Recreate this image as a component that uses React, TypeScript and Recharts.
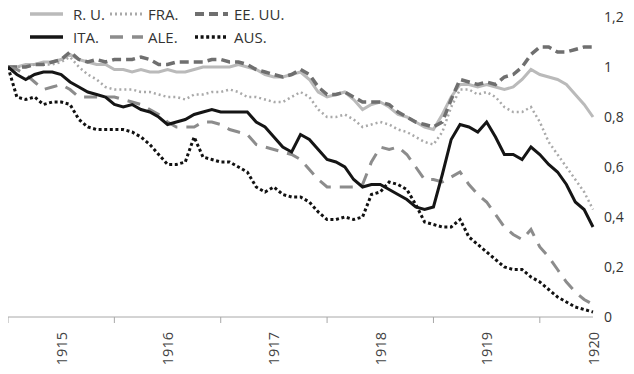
import React from 'react';
import { LineChart, Line, XAxis, YAxis, Legend } from 'recharts';

const MONTHS = [
  '1915-01', '1915-02', '1915-03', '1915-04', '1915-05', '1915-06', '1915-07', '1915-08', '1915-09', '1915-10', '1915-11', '1915-12',
  '1916-01', '1916-02', '1916-03', '1916-04', '1916-05', '1916-06', '1916-07', '1916-08', '1916-09', '1916-10', '1916-11', '1916-12',
  '1917-01', '1917-02', '1917-03', '1917-04', '1917-05', '1917-06', '1917-07', '1917-08', '1917-09', '1917-10', '1917-11', '1917-12',
  '1918-01', '1918-02', '1918-03', '1918-04', '1918-05', '1918-06', '1918-07', '1918-08', '1918-09', '1918-10', '1918-11', '1918-12',
  '1919-01', '1919-02', '1919-03', '1919-04', '1919-05', '1919-06', '1919-07', '1919-08', '1919-09', '1919-10', '1919-11', '1919-12',
  '1920-01', '1920-02', '1920-03', '1920-04', '1920-05', '1920-06', '1920-07',
];

const TICKS = [
  '1915-01', '1915-07', '1916-01', '1916-07', '1917-01', '1917-07',
  '1918-01', '1918-07', '1919-01', '1919-07', '1920-01', '1920-07',
];

const Y_TICKS = [0, 0.2, 0.4, 0.6, 0.8, 1, 1.2];

const RU = [
  1.00, 1.00, 1.01, 1.01, 1.02, 1.02, 1.03, 1.05, 1.03, 1.02, 1.01, 1.01,
  0.99, 0.99, 0.98, 0.99, 0.98, 0.98, 0.99, 0.98, 0.98, 0.99, 1.00, 1.00,
  1.00, 1.00, 1.01, 1.00, 0.99, 0.97, 0.96, 0.96, 0.97, 0.98, 0.95, 0.90,
  0.88, 0.89, 0.90, 0.87, 0.83, 0.85, 0.86, 0.84, 0.81, 0.80, 0.78, 0.76,
  0.75, 0.81, 0.88, 0.93, 0.93, 0.92, 0.93, 0.92, 0.91, 0.92, 0.95, 0.99,
  0.97, 0.96, 0.95, 0.93, 0.89, 0.85, 0.80,
];

const FRA = [
  1.00, 1.00, 1.00, 1.01, 1.01, 1.01, 1.02, 1.04, 1.00, 0.97, 0.95, 0.92,
  0.91, 0.91, 0.91, 0.90, 0.90, 0.89, 0.88, 0.88, 0.87, 0.89, 0.89, 0.90,
  0.90, 0.91, 0.90, 0.88, 0.88, 0.87, 0.86, 0.86, 0.88, 0.90, 0.88, 0.83,
  0.80, 0.80, 0.81, 0.79, 0.76, 0.77, 0.78, 0.77, 0.75, 0.74, 0.72, 0.70,
  0.69, 0.74, 0.84, 0.91, 0.91, 0.89, 0.90, 0.88, 0.84, 0.82, 0.82, 0.84,
  0.78, 0.70, 0.65, 0.60, 0.55, 0.50, 0.43,
];

const EEUU = [
  1.00, 1.00, 1.00, 1.01, 1.01, 1.02, 1.03, 1.06, 1.03, 1.02, 1.03, 1.02,
  1.03, 1.03, 1.03, 1.04, 1.03, 1.01, 1.01, 1.02, 1.02, 1.02, 1.02, 1.03,
  1.03, 1.02, 1.02, 1.01, 0.99, 0.98, 0.97, 0.96, 0.97, 0.99, 0.97, 0.92,
  0.89, 0.89, 0.90, 0.88, 0.86, 0.86, 0.86, 0.85, 0.82, 0.80, 0.78, 0.77,
  0.76, 0.78, 0.87, 0.95, 0.94, 0.93, 0.94, 0.93, 0.96, 0.97, 1.00, 1.05,
  1.08, 1.08, 1.06, 1.06, 1.07, 1.08, 1.08,
];

const ITA = [
  1.00, 0.97, 0.95, 0.97, 0.98, 0.98, 0.97, 0.94, 0.92, 0.90, 0.89, 0.88,
  0.85, 0.84, 0.85, 0.83, 0.82, 0.80, 0.77, 0.78, 0.79, 0.81, 0.82, 0.83,
  0.82, 0.82, 0.82, 0.82, 0.78, 0.76, 0.72, 0.68, 0.66, 0.73, 0.71, 0.67,
  0.63, 0.62, 0.60, 0.55, 0.52, 0.53, 0.53, 0.51, 0.49, 0.47, 0.44, 0.43,
  0.44, 0.57, 0.71, 0.77, 0.76, 0.74, 0.78, 0.72, 0.65, 0.65, 0.63, 0.68,
  0.65, 0.61, 0.58, 0.53, 0.46, 0.43, 0.36,
];

const ALE = [
  1.00, 0.99, 0.97, 0.94, 0.91, 0.92, 0.93, 0.91, 0.88, 0.88, 0.88, 0.88,
  0.88, 0.87, 0.86, 0.85, 0.83, 0.81, 0.78, 0.76, 0.76, 0.76, 0.78, 0.78,
  0.77, 0.75, 0.74, 0.73, 0.69, 0.68, 0.67, 0.66, 0.65, 0.63, 0.59, 0.55,
  0.52, 0.52, 0.52, 0.52, 0.53, 0.62, 0.68, 0.67, 0.68, 0.65, 0.60, 0.55,
  0.55, 0.54, 0.56, 0.58, 0.53, 0.49, 0.46, 0.41, 0.36, 0.33, 0.31, 0.35,
  0.28, 0.24, 0.19, 0.14, 0.10, 0.07, 0.05,
];

const AUS = [
  1.00, 0.88, 0.87, 0.88, 0.85, 0.86, 0.86, 0.85, 0.79, 0.76, 0.75, 0.75,
  0.75, 0.75, 0.74, 0.72, 0.69, 0.65, 0.61, 0.61, 0.62, 0.72, 0.64, 0.63,
  0.62, 0.62, 0.60, 0.58, 0.52, 0.50, 0.52, 0.49, 0.48, 0.48, 0.46, 0.42,
  0.39, 0.39, 0.40, 0.39, 0.40, 0.49, 0.50, 0.54, 0.53, 0.51, 0.45, 0.38,
  0.37, 0.36, 0.36, 0.39, 0.32, 0.29, 0.26, 0.23, 0.20, 0.19, 0.19, 0.16,
  0.14, 0.11, 0.08, 0.06, 0.04, 0.03, 0.02,
];

type SeriesDef = { key: string; name: string; color: string; dash?: string; width: number };

// legend order (row 1: R.U., FRA., EE.UU.; row 2: ITA., ALE., AUS.)
const SERIES: SeriesDef[] = [
  { key: 'ru', name: 'R. U.', color: '#bababa', width: 3 },
  { key: 'fra', name: 'FRA.', color: '#a9a9a9', dash: '2 3', width: 2.5 },
  { key: 'eeuu', name: 'EE. UU.', color: '#6f6f6f', dash: '9 5', width: 3.5 },
  { key: 'ita', name: 'ITA.', color: '#151515', width: 3 },
  { key: 'ale', name: 'ALE.', color: '#8c8c8c', dash: '13 9', width: 3 },
  { key: 'aus', name: 'AUS.', color: '#111111', dash: '3 2.6', width: 3 },
];

const DRAW_ORDER = ['ru', 'fra', 'eeuu', 'ale', 'aus', 'ita'];

const data = MONTHS.map((m, i) => ({
  month: m,
  ru: RU[i],
  fra: FRA[i],
  eeuu: EEUU[i],
  ita: ITA[i],
  ale: ALE[i],
  aus: AUS[i],
}));

const FONT = '"Open Sans", "Noto Sans", sans-serif';

function YearTick(props: any) {
  const { x, y, payload } = props;
  const v: string = String(payload.value);
  if (v.slice(5) === '01') {
    return <line x1={x} y1={y} x2={x} y2={y + 6} stroke="#a8a8a8" strokeWidth={1} />;
  }
  const ty = y + 15;
  return (
    <text
      x={x}
      y={ty}
      transform={`rotate(-90, ${x}, ${ty})`}
      textAnchor="end"
      dominantBaseline="central"
      fontSize={14.5}
      fill="#444"
      fontFamily={FONT}
    >
      {v.slice(0, 4)}
    </text>
  );
}

function LegendContent() {
  const colSample = [22, 102, 187];
  const colText = [65, 140, 226];
  const rowY = [6, 29];
  return (
    <svg width={300} height={44} style={{ overflow: 'visible', display: 'block' }}>
      {SERIES.map((s, i) => {
        const c = i % 3;
        const r = Math.floor(i / 3);
        const y = rowY[r];
        return (
          <g key={s.key}>
            <line
              x1={colSample[c]}
              y1={y}
              x2={colSample[c] + 33}
              y2={y}
              stroke={s.color}
              strokeWidth={s.width + 0.5}
              strokeDasharray={s.dash}
            />
            <text
              x={colText[c]}
              y={y}
              dominantBaseline="central"
              fontSize={15}
              fill="#333"
              fontFamily={FONT}
            >
              {s.name}
            </text>
          </g>
        );
      })}
    </svg>
  );
}

const fmt = (v: number) => String(Math.round(v * 10) / 10).replace('.', ',');

export default function App() {
  return (
    <div style={{ width: 626, height: 366 }}>
      <LineChart
        width={626}
        height={366}
        data={data}
        margin={{ top: 9, right: 0, bottom: 0, left: 0 }}
      >
        <XAxis
          dataKey="month"
          ticks={TICKS}
          interval={0}
          height={57}
          tickLine={false}
          tickSize={0}
          tickMargin={0}
          axisLine={{ stroke: '#a8a8a8', strokeWidth: 1 }}
          tick={<YearTick />}
        />
        <YAxis
          orientation="right"
          width={41}
          domain={[0, 1.2]}
          ticks={Y_TICKS}
          interval={0}
          axisLine={false}
          tickLine={false}
          tickSize={0}
          tickMargin={11}
          tickFormatter={fmt}
          tick={{ fontSize: 14, fill: '#333', fontFamily: FONT }}
        />
        <Legend
          verticalAlign="middle"
          layout="horizontal"
          align="center"
          wrapperStyle={{ top: 0, left: 0, width: 300, height: 44 }}
          content={<LegendContent />}
        />
        {DRAW_ORDER.map((k) => {
          const s = SERIES.find((d) => d.key === k)!;
          return (
            <Line
              key={s.key}
              type="linear"
              dataKey={s.key}
              name={s.name}
              stroke={s.color}
              strokeWidth={s.width}
              strokeDasharray={s.dash}
              dot={false}
              activeDot={false}
              isAnimationActive={false}
            />
          );
        })}
      </LineChart>
    </div>
  );
}
